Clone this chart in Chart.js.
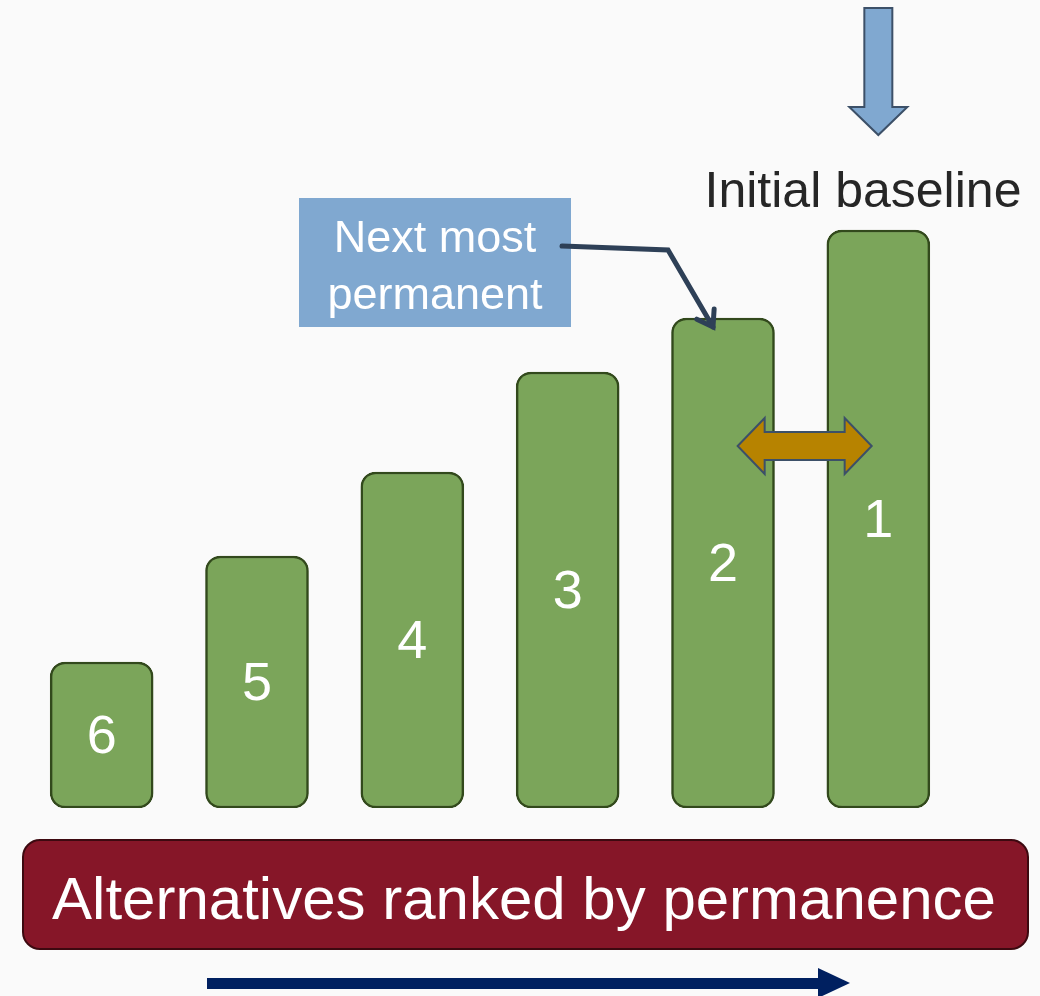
<!DOCTYPE html>
<html>
<head>
<meta charset="utf-8">
<title>Alternatives ranked by permanence</title>
<script src="https://cdn.jsdelivr.net/npm/chart.js@4.4.1/dist/chart.umd.min.js"></script>
<style>
  html, body { margin: 0; padding: 0; background: #fafafa; }
  #chart { display: block; }
</style>
</head>
<body>
<canvas id="chart" width="1040" height="996"></canvas>
<script>
// ranks shown inside each bar, least permanent on the left
const ranks = ["6", "5", "4", "3", "2", "1"];
// relative permanence (bar height)
const permanence = [146, 252, 336, 436, 490, 578];

const COLOR = {
  bar: "#7ba55a",
  barEdge: "#32491c",
  banner: "#861628",
  bannerEdge: "#3d0910",
  callout: "#80a8d0",
  calloutEdge: "#3c5068",
  line: "#2e4057",
  gold: "#b78300",
  navy: "#002060",
  text: "#262626",
};

const FONT = "'Liberation Sans', Arial, sans-serif";

function arrowPath(ctx, pts) {
  ctx.beginPath();
  ctx.moveTo(pts[0][0], pts[0][1]);
  for (let i = 1; i < pts.length; i++) ctx.lineTo(pts[i][0], pts[i][1]);
  ctx.closePath();
}

function roundRect(ctx, x, y, w, h, r) {
  ctx.beginPath();
  ctx.moveTo(x + r, y);
  ctx.arcTo(x + w, y, x + w, y + h, r);
  ctx.arcTo(x + w, y + h, x, y + h, r);
  ctx.arcTo(x, y + h, x, y, r);
  ctx.arcTo(x, y, x + w, y, r);
  ctx.closePath();
}

const diagram = {
  id: "diagram",
  beforeDraw(chart) {
    const ctx = chart.ctx;
    ctx.save();
    ctx.fillStyle = "#fafafa";
    ctx.fillRect(0, 0, chart.width, chart.height);
    ctx.restore();
  },
  afterDatasetsDraw(chart) {
    const ctx = chart.ctx;
    const bars = chart.getDatasetMeta(0).data;
    ctx.save();

    // rank numbers centred in bars
    ctx.fillStyle = "#ffffff";
    ctx.font = "54px " + FONT;
    ctx.textAlign = "center";
    ctx.textBaseline = "middle";
    bars.forEach((bar, i) => {
      ctx.fillText(ranks[i], bar.x, (bar.y + bar.base) / 2 + 3);
    });

    // down arrow above the top bar
    const top = bars[bars.length - 1];
    const cx = top.x;
    ctx.fillStyle = COLOR.callout;
    ctx.strokeStyle = COLOR.calloutEdge;
    ctx.lineWidth = 2;
    arrowPath(ctx, [
      [cx - 14, 8], [cx + 14, 8], [cx + 14, 107], [cx + 29, 107],
      [cx, 135], [cx - 29, 107], [cx - 14, 107],
    ]);
    ctx.fill();
    ctx.stroke();

    ctx.fillStyle = COLOR.text;
    ctx.font = "50px " + FONT;
    ctx.textBaseline = "alphabetic";
    ctx.fillText("Initial baseline", 863, 207);

    // callout box
    ctx.fillStyle = COLOR.callout;
    ctx.fillRect(299, 198, 272, 129);
    ctx.fillStyle = "#ffffff";
    ctx.font = "45px " + FONT;
    ctx.fillText("Next most", 435, 252);
    ctx.fillText("permanent", 435, 309);

    // connector from callout to the runner-up bar
    const second = bars[bars.length - 2];
    const tipX = second.x - 10, tipY = second.y + 9;
    ctx.strokeStyle = COLOR.line;
    ctx.lineWidth = 5;
    ctx.lineCap = "round";
    ctx.lineJoin = "miter";
    ctx.beginPath();
    ctx.moveTo(562, 246);
    ctx.lineTo(668, 250);
    ctx.lineTo(tipX, tipY);
    ctx.stroke();
    const ang = Math.atan2(tipY - 250, tipX - 668);
    ctx.beginPath();
    ctx.moveTo(tipX + 18 * Math.cos(ang + 2.55), tipY + 18 * Math.sin(ang + 2.55));
    ctx.lineTo(tipX, tipY);
    ctx.lineTo(tipX + 18 * Math.cos(ang - 2.55), tipY + 18 * Math.sin(ang - 2.55));
    ctx.stroke();

    // double arrow between the two most permanent bars
    const mid = (second.x + top.x) / 2 + 4;
    const ay = 446;
    ctx.fillStyle = COLOR.gold;
    ctx.strokeStyle = COLOR.calloutEdge;
    ctx.lineWidth = 2;
    ctx.lineCap = "butt";
    arrowPath(ctx, [
      [mid - 67, ay], [mid - 40, ay - 28], [mid - 40, ay - 14], [mid + 40, ay - 14],
      [mid + 40, ay - 28], [mid + 67, ay], [mid + 40, ay + 28], [mid + 40, ay + 14],
      [mid - 40, ay + 14], [mid - 40, ay + 28],
    ]);
    ctx.fill();
    ctx.stroke();

    // banner under the bars
    roundRect(ctx, 23, 840, 1005, 109, 17);
    ctx.fillStyle = COLOR.banner;
    ctx.fill();
    ctx.strokeStyle = COLOR.bannerEdge;
    ctx.lineWidth = 2;
    ctx.stroke();
    ctx.fillStyle = "#ffffff";
    ctx.font = "60px " + FONT;
    ctx.fillText("Alternatives ranked by permanence", 524, 919);

    // direction arrow
    ctx.fillStyle = COLOR.navy;
    ctx.fillRect(207, 978, 613, 11);
    arrowPath(ctx, [[818, 968], [850, 983], [818, 998]]);
    ctx.fill();

    ctx.restore();
  },
};

new Chart(document.getElementById("chart"), {
  type: "bar",
  data: {
    labels: ranks,
    datasets: [
      {
        data: permanence,
        backgroundColor: COLOR.bar,
        borderColor: COLOR.barEdge,
        borderWidth: 2.5,
        borderRadius: 15,
        borderSkipped: false,
        barThickness: 103,
      },
    ],
  },
  options: {
    responsive: false,
    animation: false,
    layout: { padding: { left: 24, right: 84, top: 0, bottom: 188 } },
    scales: {
      x: { display: false },
      y: { display: false, min: 0, max: 808 },
    },
    plugins: {
      legend: { display: false },
      tooltip: { enabled: false },
    },
  },
  plugins: [diagram],
});
</script>
</body>
</html>
